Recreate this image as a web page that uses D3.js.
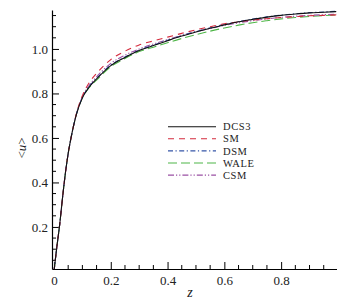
<!DOCTYPE html>
<html><head><meta charset="utf-8">
<script src="https://cdn.jsdelivr.net/npm/d3@7"></script>
<style>body{margin:0;background:#fff}svg{display:block}text{font-family:"Liberation Serif","Times New Roman",serif;fill:#222}</style>
</head><body><svg id="c" width="342" height="305"></svg>
<script>
const zValues = [0,0.01,0.02,0.03,0.04,0.05,0.06,0.08,0.1,0.125,0.15,0.2,0.25,0.3,0.35,0.4,0.45,0.5,0.55,0.6,0.65,0.7,0.75,0.8,0.85,0.9,0.95,0.995];
const dcs3 = [0,0.11,0.21,0.33,0.44,0.53,0.60,0.71,0.78,0.83,0.865,0.925,0.962,0.993,1.015,1.037,1.058,1.076,1.093,1.108,1.122,1.133,1.143,1.151,1.157,1.162,1.165,1.168];
const sm   = [0,0.11,0.21,0.33,0.44,0.53,0.60,0.715,0.79,0.85,0.89,0.952,0.99,1.018,1.036,1.053,1.07,1.086,1.10,1.113,1.122,1.13,1.136,1.141,1.145,1.149,1.151,1.153];
const dsm  = [0,0.11,0.21,0.33,0.44,0.53,0.60,0.712,0.782,0.833,0.868,0.927,0.964,0.995,1.017,1.039,1.06,1.078,1.095,1.11,1.123,1.134,1.144,1.152,1.158,1.163,1.166,1.169];
const wale = [0,0.11,0.21,0.33,0.44,0.53,0.60,0.71,0.78,0.828,0.86,0.92,0.957,0.988,1.008,1.028,1.047,1.064,1.08,1.094,1.107,1.118,1.127,1.135,1.141,1.146,1.15,1.153];
const csm  = [0,0.11,0.21,0.33,0.44,0.53,0.60,0.712,0.785,0.838,0.875,0.935,0.972,1.0,1.022,1.042,1.061,1.077,1.092,1.106,1.117,1.127,1.135,1.142,1.147,1.151,1.154,1.156];
const seriesNames = ["DCS3","SM","DSM","WALE","CSM"];
const xTickLabels = ["0","0.2","0.4","0.6","0.8"];
const yTickLabels = ["0.2","0.4","0.6","0.8","1.0"];

const seriesData = [dcs3, sm, dsm, wale, csm];
const colors = ["#111111","#d42a3c","#3656a8","#4fb648","#9a50a4"];
const dashes = [null,"6,5","5,2.5,1.2,2.5","9,4","6,2,1.2,2,1.2,2"];
const serif = "Liberation Serif, Times New Roman, serif";

const svg = d3.select("#c");
const x = d3.scaleLinear().domain([-0.007,0.995]).range([52,336.5]);
const y = d3.scaleLinear().domain([0.011,1.175]).range([269,10]);

// axes
const xMajor = xTickLabels.map(Number);
const xMinor = d3.range(0,0.99,0.05).filter(v => !xMajor.some(m => Math.abs(m-v)<1e-6));
const yMajor = yTickLabels.map(Number);
const yMinor = d3.range(0.05,1.176,0.05).filter(v => !yMajor.some(m => Math.abs(m-v)<1e-6));

const xAxis = d3.axisBottom(x).tickValues(xMajor).tickFormat((d,i)=>xTickLabels[i]).tickSizeInner(-7).tickSizeOuter(0).tickPadding(7);
const gx = svg.append("g").attr("transform",`translate(0,${y.range()[0]})`).call(xAxis);
gx.append("g").selectAll("line").data(xMinor).join("line")
  .attr("x1",d=>x(d)).attr("x2",d=>x(d)).attr("y1",0).attr("y2",-4).attr("stroke","#000");
const yAxis = d3.axisLeft(y).tickValues(yMajor).tickFormat((d,i)=>yTickLabels[i]).tickSizeInner(-7).tickSizeOuter(0).tickPadding(4);
const gy = svg.append("g").attr("transform",`translate(${x.range()[0]},0)`).call(yAxis);
gy.append("g").selectAll("line").data(yMinor).join("line")
  .attr("y1",d=>y(d)).attr("y2",d=>y(d)).attr("x1",0).attr("x2",4).attr("stroke","#000");
[gx,gy].forEach(g => g.attr("font-family",serif).attr("font-size",13));
svg.selectAll(".domain").attr("stroke","#000").attr("stroke-width",1.2);
svg.selectAll(".tick line").attr("stroke","#000");
svg.selectAll(".tick text").attr("fill","#333");

// clip
svg.append("clipPath").attr("id","clip").append("rect")
  .attr("x",x.range()[0]).attr("y",y.range()[1]).attr("width",x.range()[1]-x.range()[0]).attr("height",y.range()[0]-y.range()[1]);

const line = d3.line().x(d=>x(d[0])).y(d=>y(d[1])).curve(d3.curveMonotoneX);
const drawOrder = [3,4,2,1,0];
const gl = svg.append("g").attr("clip-path","url(#clip)");
drawOrder.forEach(i => {
  gl.append("path").datum(zValues.map((z,k)=>[z,seriesData[i][k]]))
    .attr("d",line).attr("fill","none").attr("stroke",colors[i]).attr("stroke-width",1.1)
    .attr("stroke-dasharray",dashes[i]);
});

// legend
const lg = svg.append("g");
seriesNames.forEach((n,i) => {
  const yy = 126.7 + i*12.1;
  lg.append("line").attr("x1",168).attr("x2",216).attr("y1",yy).attr("y2",yy)
    .attr("stroke",colors[i]).attr("stroke-width",1.1).attr("stroke-dasharray",dashes[i]);
  lg.append("text").attr("x",223).attr("y",yy).attr("dy","0.35em")
    .attr("font-family",serif).attr("font-size",10.5).attr("letter-spacing",0.6).text(n);
});

// axis titles
svg.append("text").attr("x",190).attr("y",297).attr("text-anchor","middle")
  .attr("font-family",serif).attr("font-size",14).attr("font-style","italic").text("z");
svg.append("text").attr("transform","translate(26,148) rotate(-90)").attr("text-anchor","middle")
  .attr("font-family",serif).attr("font-size",13)
  .html('&lt;<tspan font-style="italic">u</tspan>&gt;');
</script></body></html>
